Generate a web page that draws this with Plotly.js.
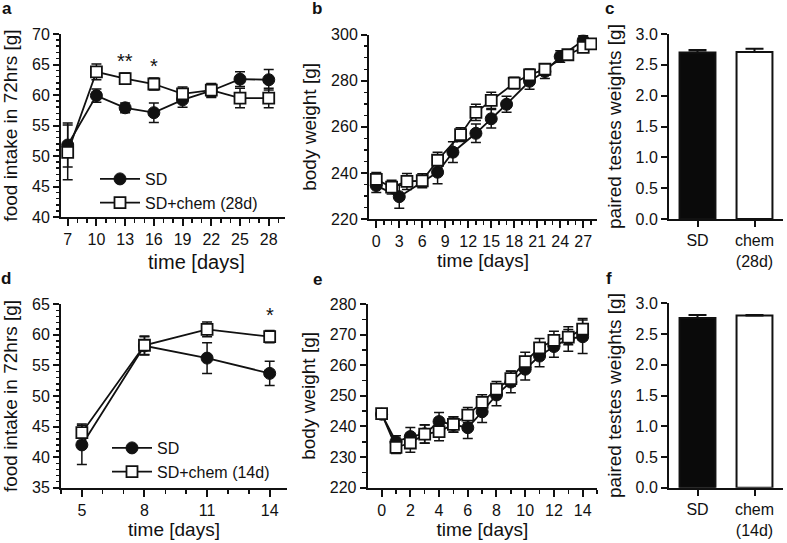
<!DOCTYPE html>
<html>
<head>
<meta charset="utf-8">
<script src="https://cdn.plot.ly/plotly-3.0.1.min.js"></script>
<style>html,body{margin:0;padding:0;background:#fff;}#chart{width:787px;height:543px;}</style>
</head>
<body>
<div id="chart"></div>
<script>
// ---- Panel a: food intake (28d) ----
const aDays = [7, 10, 13, 16, 19, 22, 25, 28];
const aSD = [51.8, 59.9, 57.9, 57.1, 59.2, 60.7, 62.6, 62.5];
const aSDerr = [3.6, 1.1, 0.8, 1.6, 1.2, 1.1, 1.2, 1.7];
const aChem = [50.6, 63.8, 62.7, 61.8, 60.2, 60.8, 59.5, 59.5];
const aChemErr = [4.5, 1.3, 0.9, 1.0, 1.1, 1.1, 1.6, 1.6];

// ---- Panel b: body weight (28d) ----
const bSDdays = [0, 3, 8, 10, 13, 15, 17, 20, 22, 24, 27];
const bSD = [234.5, 229.7, 240.3, 249.0, 257.2, 263.5, 269.8, 279.8, 284.0, 290.5, 297.5];
const bSDerr = [3, 5, 5, 4.5, 4, 4, 3.5, 3.5, 3, 2.5, 2];
const bChemDays = [0, 2, 4, 6, 8, 11, 13, 15, 18, 20, 22, 25, 27, 28];
const bChem = [237.2, 233.8, 236.3, 236.6, 245.5, 256.6, 266.3, 271.5, 279.0, 282.6, 285.0, 291.3, 294.5, 296.0];
const bChemErr = [3, 3, 3.5, 3, 3.5, 3, 3.5, 3.5, 2.5, 2.5, 2, 1.5, 2, 2];

// ---- Panel c: testes weights (28d) ----
const cCats = ['SD', 'chem<br>(28d)'];
const cVals = [2.70, 2.71];
const cErr = [0.04, 0.05];

// ---- Panel d: food intake (14d) ----
const dDays = [5, 8, 11, 14];
const dSD = [42.0, 58.2, 56.2, 53.7];
const dSDerr = [3.2, 1.5, 2.5, 2.0];
const dChem = [44.0, 58.3, 60.9, 59.7];
const dChemErr = [1.4, 1.5, 1.2, 1.0];

// ---- Panel e: body weight (14d) ----
const eDays = [0, 1, 2, 3, 4, 5, 6, 7, 8, 9, 10, 11, 12, 13, 14];
const eSD = [244.0, 235.0, 236.7, 237.6, 241.6, 240.6, 239.6, 244.8, 250.3, 254.5, 258.7, 263.0, 266.1, 268.6, 269.3];
const eSDerr = [1.5, 2, 3, 3, 3, 2.5, 3.5, 3.5, 3.5, 3.5, 3.5, 3.5, 3.5, 4, 5.5];
const eChem = [244.2, 233.2, 234.6, 237.5, 238.3, 240.7, 243.7, 247.9, 252.2, 255.6, 261.2, 265.7, 268.1, 269.2, 271.8];
const eChemErr = [1.5, 2, 3, 3, 3, 2.5, 2.5, 2.5, 2.5, 2.5, 3, 3, 3, 2.5, 3.5];

// ---- Panel f: testes weights (14d) ----
const fCats = ['SD', 'chem<br>(14d)'];
const fVals = [2.76, 2.80];
const fErr = [0.05, 0.01];

// ---- Significance marks ----
const aStarX = [13, 16];
const aStarY = [65.6, 64.8];
const aStarText = ['**', '*'];
const dStarX = [14];
const dStarY = [63.2];
const dStarText = ['*'];

const INK = '#111111';
const FONT = 'Liberation Sans, Arial, sans-serif';

function errY(arr) {
  return {type: 'data', array: arr, visible: true, color: INK, thickness: 1.5, width: 5};
}
function sdTrace(x, y, err, xa, ya, name, legend, show) {
  return {x: x, y: y, type: 'scatter', mode: 'lines+markers', name: name,
    xaxis: xa, yaxis: ya, legend: legend, showlegend: show,
    line: {color: INK, width: 1.8},
    marker: {symbol: 'circle', size: 12, color: INK, line: {color: INK, width: 1}},
    error_y: errY(err)};
}
function chemTrace(x, y, err, xa, ya, name, legend, show) {
  return {x: x, y: y, type: 'scatter', mode: 'lines+markers', name: name,
    xaxis: xa, yaxis: ya, legend: legend, showlegend: show,
    line: {color: INK, width: 1.8},
    marker: {symbol: 'square', size: 11, color: '#ffffff', line: {color: INK, width: 1.8}},
    error_y: errY(err)};
}
function barTrace(cats, vals, err, xa, ya) {
  return {x: cats, y: vals, type: 'bar', xaxis: xa, yaxis: ya, showlegend: false,
    width: 0.63,
    marker: {color: ['#0a0a0a', '#ffffff'], line: {color: INK, width: 2}},
    error_y: {type: 'data', symmetric: false, array: err, arrayminus: err.map(() => 0),
      visible: true, color: INK, thickness: 2, width: 9}};
}

const data = [
  sdTrace(aDays, aSD, aSDerr, 'x', 'y', 'SD', 'legend', true),
  chemTrace(aDays, aChem, aChemErr, 'x', 'y', 'SD+chem (28d)', 'legend', true),
  sdTrace(bSDdays, bSD, bSDerr, 'x2', 'y2', 'SD', 'legend', false),
  chemTrace(bChemDays, bChem, bChemErr, 'x2', 'y2', 'SD+chem (28d)', 'legend', false),
  barTrace(cCats, cVals, cErr, 'x3', 'y3'),
  sdTrace(dDays, dSD, dSDerr, 'x4', 'y4', 'SD', 'legend2', true),
  chemTrace(dDays, dChem, dChemErr, 'x4', 'y4', 'SD+chem (14d)', 'legend2', true),
  sdTrace(eDays, eSD, eSDerr, 'x5', 'y5', 'SD', 'legend2', false),
  chemTrace(eDays, eChem, eChemErr, 'x5', 'y5', 'SD+chem (14d)', 'legend2', false),
  barTrace(fCats, fVals, fErr, 'x6', 'y6')
];

const px = v => v / 787;
const py = v => 1 - v / 543;
const tickFont = {family: FONT, size: 16, color: INK};
const titleFont = {family: FONT, size: 19, color: INK};

function xAxis(dom, anchor, range, tick0, dtick, minorDtick, title) {
  const ax = {domain: dom, anchor: anchor, range: range, showline: true, linewidth: 2, linecolor: INK,
    showgrid: false, zeroline: false, ticks: 'outside', ticklen: 7, tickwidth: 2, tickcolor: INK,
    tickmode: 'linear', tick0: tick0, dtick: dtick, tickfont: tickFont,
    title: {text: title, font: titleFont, standoff: 0}, fixedrange: true};
  if (minorDtick) ax.minor = {dtick: minorDtick, ticks: 'outside', ticklen: 4, tickwidth: 1.5, tickcolor: INK, showgrid: false};
  return ax;
}
function yAxis(dom, anchor, range, dtick, minorDtick, title, fmt) {
  const ax = {domain: dom, anchor: anchor, range: range, showline: true, linewidth: 2, linecolor: INK,
    showgrid: false, zeroline: false, ticks: 'outside', ticklen: 6, tickwidth: 2, tickcolor: INK,
    tickmode: 'linear', tick0: range[0], dtick: dtick, tickfont: tickFont, tickformat: fmt || '',
    title: {text: title, font: titleFont, standoff: 9}, fixedrange: true};
  if (minorDtick) ax.minor = {dtick: minorDtick, ticks: 'outside', ticklen: 3.5, tickwidth: 1.5, tickcolor: INK, showgrid: false};
  return ax;
}
function catAxis(dom, anchor) {
  return {domain: dom, anchor: anchor, range: [-0.5, 1.5], type: 'category', showline: true, linewidth: 2,
    linecolor: INK, showgrid: false, zeroline: false, ticks: 'outside', ticklen: 6, tickwidth: 2,
    tickcolor: INK, tickfont: tickFont, fixedrange: true};
}

const annotations = [];
function starNotes(xs, ys, txt, xa, ya) {
  xs.forEach((x, i) => annotations.push({x: x, y: ys[i], xref: xa, yref: ya, text: txt[i], showarrow: false,
    font: {family: FONT, size: 20, color: INK}}));
}
starNotes(aStarX, aStarY, aStarText, 'x', 'y');
starNotes(dStarX, dStarY, dStarText, 'x4', 'y4');
const panelLabels = [['a', 7, 9], ['b', 317, 9], ['c', 609, 9], ['d', 6, 278], ['e', 317, 279], ['f', 609, 278]];
panelLabels.forEach(p => annotations.push({x: px(p[1]), y: py(p[2]), xref: 'paper', yref: 'paper',
  text: '<b>' + p[0] + '</b>', showarrow: false, xanchor: 'center', yanchor: 'middle',
  font: {family: FONT, size: 17, color: INK}}));
// Panel a x-axis title (placed right of centre in the original)
annotations.push({x: px(196), y: py(262), xref: 'paper', yref: 'paper', text: 'time [days]', showarrow: false,
  xanchor: 'center', yanchor: 'middle', font: {family: FONT, size: 20, color: INK}});

const legendFont = {family: FONT, size: 16, color: INK};
const layout = {
  width: 787, height: 543, margin: {l: 0, r: 0, t: 0, b: 0}, paper_bgcolor: '#ffffff', plot_bgcolor: '#ffffff',
  font: {family: FONT, color: INK},
  xaxis: xAxis([px(61), px(285)], 'y', [6.3, 29.7], 7, 3, 1, ''),
  yaxis: yAxis([py(217), py(34)], 'x', [40, 70], 5, 1, 'food intake in 72hrs [g]'),
  xaxis2: xAxis([px(369), px(597)], 'y2', [-0.95, 28.8], 0, 3, 1, 'time [days]'),
  yaxis2: yAxis([py(219), py(34.7)], 'x2', [220, 300], 20, 5, 'body weight [g]'),
  xaxis3: catAxis([px(669), px(783)], 'y3'),
  yaxis3: yAxis([py(219), py(34)], 'x3', [0, 3], 0.5, null, 'paired testes weights [g]', '.1f'),
  xaxis4: xAxis([px(61), px(287)], 'y4', [4.0, 14.83], 5, 3, 1, 'time [days]'),
  yaxis4: yAxis([py(487.7), py(304.3)], 'x4', [35, 65], 5, 1, 'food intake in 72hrs [g]'),
  xaxis5: xAxis([px(367.7), px(597)], 'y5', [-0.97, 15], 0, 2, 1, 'time [days]'),
  yaxis5: yAxis([py(487.7), py(304)], 'x5', [220, 280], 10, 5, 'body weight [g]'),
  xaxis6: catAxis([px(669), px(783)], 'y6'),
  yaxis6: yAxis([py(487.7), py(303.3)], 'x6', [0, 3], 0.5, null, 'paired testes weights [g]', '.1f'),
  legend: {x: px(95), y: py(162), xanchor: 'left', yanchor: 'top', bgcolor: 'rgba(0,0,0,0)',
    font: legendFont, tracegroupgap: 0, itemwidth: 40},
  legend2: {x: px(107), y: py(431), xanchor: 'left', yanchor: 'top', bgcolor: 'rgba(0,0,0,0)',
    font: legendFont, tracegroupgap: 0, itemwidth: 40},
  annotations: annotations,
  bargap: 0.37
};

Plotly.newPlot('chart', data, layout, {staticPlot: true, displayModeBar: false});
</script>
</body>
</html>
